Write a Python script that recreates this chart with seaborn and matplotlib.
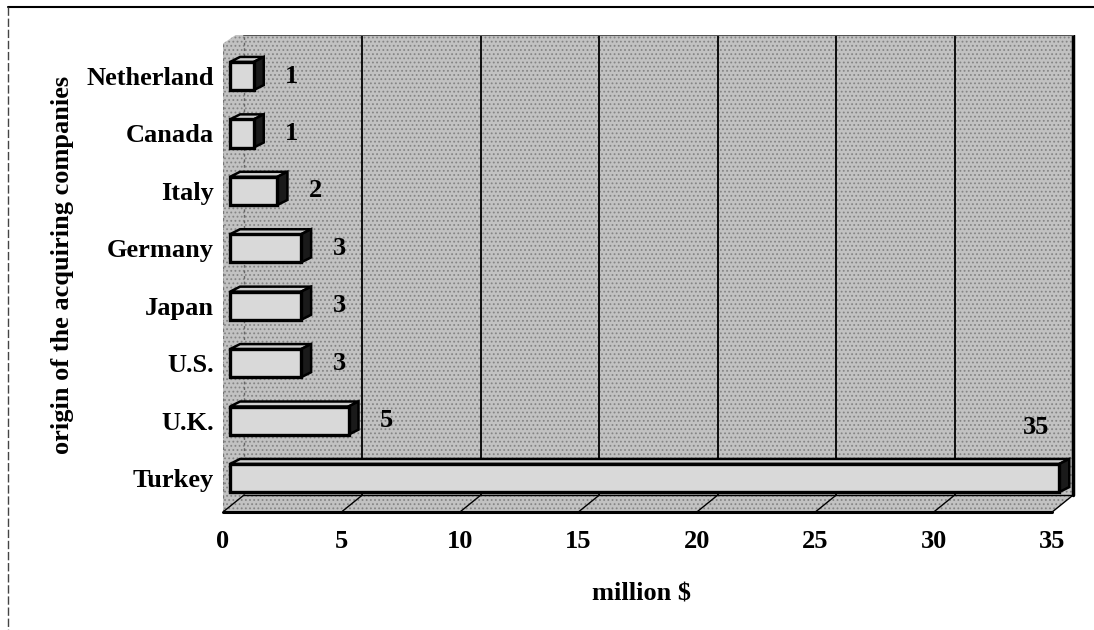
import matplotlib
matplotlib.use("Agg")
import matplotlib.pyplot as plt
from matplotlib.patches import Polygon
from matplotlib.lines import Line2D
import seaborn as sns
import pandas as pd

# ---- data ----
countries = ["Netherland", "Canada", "Italy", "Germany", "Japan", "U.S.", "U.K.", "Turkey"]
values = [1, 1, 2, 3, 3, 3, 5, 35]
x_ticks = [0, 5, 10, 15, 20, 25, 30, 35]
x_label = "million $"
y_label = "origin of the acquiring companies"

sns.set_style("white")
plt.rcParams["font.family"] = ["Liberation Serif", "DejaVu Serif"]
plt.rcParams["font.weight"] = "bold"
plt.rcParams["hatch.linewidth"] = 0.8
for k in ["text.color", "axes.labelcolor", "xtick.color", "ytick.color"]:
    plt.rcParams[k] = "black"

df = pd.DataFrame({"country": countries, "value": values})

fig = plt.figure(figsize=(10.94, 6.3), dpi=100)
ax = fig.add_axes([223 / 1094, 1 - 512 / 630, 860 / 1094, 477 / 630])

FS = 19
# geometry (data units)
XMAX = x_ticks[-1]
DX, DY = 0.886, -0.296          # wall depth
Y_FRONT, Y_TOP = 7.592, -0.714
Y_BACK = Y_FRONT + DY
BX = 0.30                        # bar offset into depth
BDX, BDY = 0.42, -0.087          # bar 3D depth
BW = 0.49                        # bar thickness

wall_col = "#c2c2c2"
stip_col = "#858585"

# bars (seaborn)
sns.barplot(data=df, x="value", y="country", order=countries, orient="h",
            color="#d9d9d9", width=BW, edgecolor="black", linewidth=2.4,
            saturation=1, ax=ax, zorder=3)
bars = list(ax.containers[0])

# walls / floor
wall = Polygon([(0, Y_FRONT), (XMAX, Y_FRONT), (XMAX + DX, Y_BACK), (XMAX + DX, Y_TOP),
                (DX * 0.6, Y_TOP), (0, Y_TOP + 0.15)],
               closed=True, facecolor=wall_col, edgecolor=stip_col, linewidth=0,
               hatch="....", zorder=0)
ax.add_patch(wall)

# back wall gridlines
for t in x_ticks[1:-1]:
    ax.plot([t + DX, t + DX], [Y_BACK, Y_TOP], color="black", lw=1.3, zorder=1)
# back wall edges
ax.plot([XMAX + DX, XMAX + DX], [Y_BACK, Y_TOP], color="black", lw=2.5, zorder=1)
ax.plot([DX, XMAX + DX], [Y_TOP, Y_TOP], color="#555555", lw=1.5, zorder=1)
ax.plot([DX, DX], [Y_BACK, Y_TOP], color="#666666", lw=1.0, ls=(0, (2, 2)), zorder=1)
ax.plot([0, 0], [Y_FRONT, Y_TOP + 0.15], color="#777777", lw=1.0, ls=(0, (2, 3)), zorder=1)
# floor
ax.plot([DX, XMAX + DX], [Y_BACK, Y_BACK], color="black", lw=1.0, zorder=1)
for t in x_ticks:
    ax.plot([t, t + DX], [Y_FRONT, Y_BACK], color="black", lw=1.0, zorder=1)
ax.plot([0, XMAX], [Y_FRONT, Y_FRONT], color="black", lw=2.2, zorder=2, clip_on=False)

for p in bars:
    p.set_x(p.get_x() + BX)
    x0, y0 = p.get_x(), p.get_y()
    w, h = p.get_width(), p.get_height()
    y_top, y_bot = y0, y0 + h
    top = Polygon([(x0, y_top), (x0 + w, y_top), (x0 + w + BDX, y_top + BDY),
                   (x0 + BDX, y_top + BDY)], closed=True, facecolor="#cfcfcf",
                  edgecolor="black", linewidth=1.8, zorder=2.9)
    cap = Polygon([(x0 + w, y_bot), (x0 + w, y_top), (x0 + w + BDX, y_top + BDY),
                   (x0 + w + BDX, y_bot + BDY)], closed=True, facecolor="#1a1a1a",
                  edgecolor="black", linewidth=1.8, zorder=2.9)
    ax.add_patch(top)
    ax.add_patch(cap)

# value labels
for i, v in enumerate(values):
    if v + 2 > XMAX:
        ax.text(v - 0.7, i - 0.88, str(v), ha="center", va="center",
                fontsize=FS, fontweight="bold", color="black", zorder=5)
    else:
        ax.text(v + 1.9, i, str(v), ha="center", va="center",
                fontsize=FS, fontweight="bold", color="black", zorder=5)

ax.set_xlim(0, 36.3)
ax.set_ylim(Y_FRONT, Y_TOP)
ax.set_xticks(x_ticks)
ax.set_xticklabels([str(t) for t in x_ticks], fontsize=FS, fontweight="bold")
ax.set_yticks(range(len(countries)))
ax.set_yticklabels(countries, fontsize=FS, fontweight="bold")
ax.tick_params(axis="x", direction="out", length=4, width=1, pad=9, colors="black")
ax.tick_params(axis="y", length=0, pad=6.5, colors="black")
for s in ax.spines.values():
    s.set_visible(False)
ax.set_facecolor("none")
ax.grid(False)

ax.set_xlabel(x_label, fontsize=FS, fontweight="bold", color="black")
ax.xaxis.set_label_coords((641 - 223) / 860, (512 - 583) / 477)
ax.set_ylabel(y_label, fontsize=FS, fontweight="bold", color="black")
ax.yaxis.set_label_coords((74 - 223) / 860, (512 - 265) / 477)

# outer frame
fig.add_artist(Line2D([8 / 1094, 1.0], [1 - 7 / 630, 1 - 7 / 630], color="black", lw=1.5))
fig.add_artist(Line2D([8 / 1094, 8 / 1094], [1 - 7 / 630, 0], color="#444444", lw=1.0,
                      ls=(0, (6, 2))))

fig.savefig("out.png", dpi=100)
